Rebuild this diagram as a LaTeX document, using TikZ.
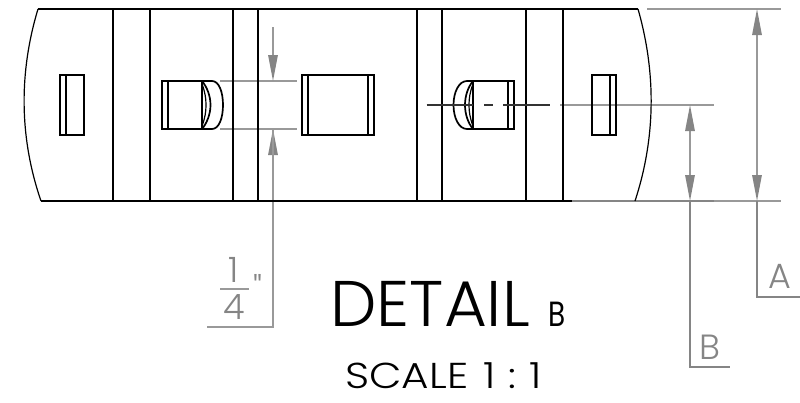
\documentclass[tikz,border=0pt]{standalone}
\usepackage{fontspec}
\setmainfont{Poppins}
\newfontfamily\gothic[UprightFont=* Light]{Poppins}
\usetikzlibrary{arrows.meta}
\definecolor{dimgray}{HTML}{999999}
\definecolor{tipgray}{HTML}{858585}
\tikzset{
  part/.style={line width=1.7pt,black},
  thinpart/.style={line width=1.2pt,black},
  dimline/.style={line width=1.4pt,dimgray},
  darkdim/.style={line width=1.4pt,tipgray},
  dimarrow/.style={line width=1.4pt,dimgray,-{Triangle[length=26pt,width=9.5pt,color=tipgray]}},
  dimtext/.style={text=tipgray,inner sep=0pt,font=\gothic},
  title/.style={text=black,inner sep=0pt,font=\gothic},
}
\begin{document}
\begin{tikzpicture}[x=1pt,y=-1pt]
\useasboundingbox (0,0) rectangle (800,402);
% dimension geometry
\coordinate (Atop) at (757,9);
\coordinate (Abot) at (757,201);
\coordinate (Bmid) at (690,105);
\coordinate (Bbot) at (690,201);
\coordinate (Qtop) at (273,81);
\coordinate (Qbot) at (273,129);
\draw[dimline] (647,9) -- (781,9);
\draw[dimline] (714,201) -- (781,201);
\draw[dimline] (560,105) -- (714,105);
\draw[darkdim] (572,201) -- (714,201);
\draw[dimline] (220,81) -- (297,81);
\draw[dimline] (220,129) -- (297,129);
\draw[dimarrow] (757,100) -- (Atop);
\draw[dimarrow] (757,100) -- (Abot);
\draw[dimarrow] (690,150) -- (Bmid);
\draw[dimarrow] (690,150) -- (Bbot);
\draw[dimarrow] (273,27) -- (Qtop);
\draw[dimarrow] (273,200) -- (Qbot);
\draw[dimline] (273,129) -- (273,327) -- (207,327);
\draw[darkdim] (Abot) -- (757,297) -- (800,297);
\draw[darkdim] (Bbot) -- (690,367) -- (730,367);
% body outline
\draw[part] (38,9) -- (638,9);
\draw[part] (41,201) -- (572,201);
\draw[thinpart] (38,9) .. controls (19,72) and (19,137) .. (41,201);
\draw[thinpart] (638,9) .. controls (656,72) and (656,137) .. (635,201);
\foreach \x in {113,150,233,258,417,442,526,563}
  \draw[part] (\x,9) -- (\x,201);
% slots
\draw[part] (60,75) rectangle (84,135);
\draw[part] (66,75) -- (66,135);
\draw[part] (592,75) rectangle (616,135);
\draw[part] (610,75) -- (610,135);
\draw[part] (302,75) rectangle (374,135);
\draw[part] (308,75) -- (308,135);
\draw[part] (368,75) -- (368,135);
% left pin
\draw[part] (162,81) rectangle (168,129);
\draw[part] (168,81) -- (212,81) .. controls (219,81) and (223,92) .. (223,105) .. controls (223,118) and (219,129) .. (212,129) -- (168,129);
\draw[part] (202,81) -- (202,129);
\draw[part] (202,81) .. controls (207,87) and (210.5,96) .. (210.5,105) .. controls (210.5,114) and (207,123) .. (202,129);
\draw[thinpart] (202,84) .. controls (205,92) and (206,98) .. (206,105) .. controls (206,112) and (205,118) .. (202,126);
% right pin
\draw[part] (508,81) rectangle (514,129);
\draw[part] (508,81) -- (467,81) .. controls (459,81) and (453.5,92) .. (453.5,105) .. controls (453.5,118) and (459,129) .. (467,129) -- (508,129);
\draw[part] (473,81) -- (473,129);
\draw[part] (473,81) .. controls (468,87) and (465,96) .. (465,105) .. controls (465,114) and (468,123) .. (473,129);
\draw[thinpart] (473,84) .. controls (470,92) and (469,98) .. (469,105) .. controls (469,112) and (470,118) .. (473,126);
% centre line
\draw[line width=1.3pt,black!80] (426.7,105) -- (473,105);
\draw[line width=1.3pt,black!80] (484,105) -- (493,105);
\draw[line width=1.3pt,black!80] (503,105) -- (550,105);
% dimension text
\node[dimtext,font=\gothic\fontsize{35}{35}\selectfont] (qone) at (234,270) {1};
\draw[dimline] (220,289) -- (249,289);
\node[dimtext,font=\gothic\fontsize{35}{35}\selectfont] (qfour) at (234,307) {4};
\node[dimtext,font=\gothic\fontsize{34}{34}\selectfont,anchor=north] (qmark) at (258,274) {"};
\node[dimtext,font=\gothic\fontsize{35}{35}\selectfont] (labA) at (780,276.5) {A};
\node[dimtext,font=\gothic\fontsize{35}{35}\selectfont] (labB) at (710,347.5) {B};
% titles
\node[title,font=\gothic\fontsize{64.5}{65}\selectfont,xscale=1.02] (det) at (430,303.8) {DETAIL};
\node[title,font=\fontsize{35}{35}\selectfont,xscale=0.8] (detb) at (557.5,314.5) {B};
\node[title,font=\gothic\fontsize{36}{36}\selectfont,xscale=1.17] (scale) at (443.5,376) {SCALE\hspace{13pt}1\hspace{11pt}:\hspace{11pt}1};
\end{tikzpicture}
\end{document}
